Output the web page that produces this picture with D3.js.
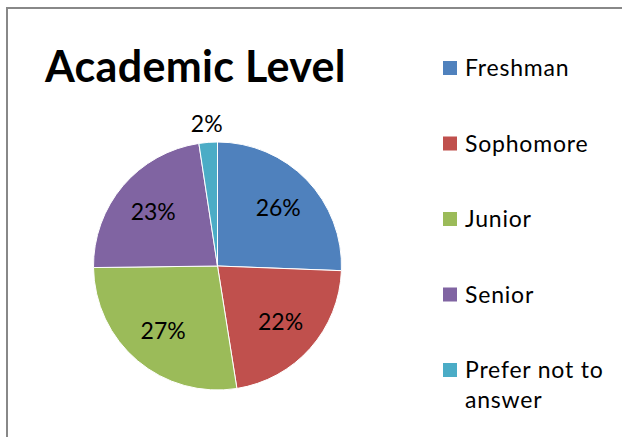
<!DOCTYPE html>
<html>
<head>
<meta charset="utf-8">
<script src="https://cdn.jsdelivr.net/npm/d3@7"></script>
<style>
  body { margin: 0; background: #fff; }
  svg { display: block; font-family: Lato, "Open Sans", sans-serif; }
</style>
</head>
<body>
<svg id="chart" width="622" height="437"></svg>
<script>
const categories = ["Freshman", "Sophomore", "Junior", "Senior", "Prefer not to answer"];
const shares = [25.6, 21.9, 27.3, 22.8, 2.4];
const colors = ["#4F81BD", "#C0504D", "#9BBB59", "#8064A2", "#4BACC6"];

const svg = d3.select("#chart");

// chart frame (runs off the right and bottom edge)
svg.append("rect")
  .attr("x", 7).attr("y", 8)
  .attr("width", 640).attr("height", 460)
  .attr("fill", "none")
  .attr("stroke", "#888")
  .attr("stroke-width", 2);

svg.append("text")
  .attr("x", 45).attr("y", 82)
  .attr("font-size", 43)
  .attr("font-weight", "bold")
  .attr("letter-spacing", 0.3)
  .attr("fill", "#000")
  .text("Academic Level");

const cx = 217.5, cy = 266, r = 124;
const g = svg.append("g").attr("transform", `translate(${cx},${cy})`);

const data = categories.map((c, i) => ({ name: c, value: shares[i], color: colors[i] }));
const pie = d3.pie().sort(null).value(d => d.value);
const arc = d3.arc().innerRadius(0).outerRadius(r);
const labelArc = d3.arc().innerRadius(r * 0.68).outerRadius(r * 0.68);
const outerArc = d3.arc().innerRadius(r + 19).outerRadius(r + 19);

const arcs = pie(data);

g.selectAll("path")
  .data(arcs)
  .join("path")
  .attr("d", arc)
  .attr("fill", d => d.data.color)
  .attr("stroke", "#fff")
  .attr("stroke-width", 1);

g.selectAll(".lbl")
  .data(arcs)
  .join("text")
  .attr("class", "lbl")
  .attr("transform", d => {
    const p = d.data.value < 5 ? outerArc.centroid(d) : labelArc.centroid(d);
    return `translate(${p[0]},${p[1]})`;
  })
  .attr("text-anchor", "middle")
  .attr("dy", "0.36em")
  .attr("font-size", 23)
  .attr("fill", "#000")
  .text(d => Math.round(d.data.value) + "%");

// legend
const legend = svg.append("g").attr("transform", "translate(443,0)");
const rowY = d3.scalePoint().domain(categories).range([76, 378]);

categories.forEach((c, i) => {
  const y = rowY(c);
  legend.append("rect")
    .attr("x", 0).attr("y", y - 15)
    .attr("width", 14).attr("height", 14)
    .attr("fill", colors[i]);
  const t = legend.append("text")
    .attr("x", 22).attr("y", y)
    .attr("font-size", 23)
    .attr("letter-spacing", 0.8)
    .attr("fill", "#000");
  const lines = c === "Prefer not to answer" ? ["Prefer not to", "answer"] : [c];
  lines.forEach((ln, j) => {
    t.append("tspan").attr("x", 22).attr("dy", j ? 30 : 0).text(ln);
  });
});
</script>
</body>
</html>
